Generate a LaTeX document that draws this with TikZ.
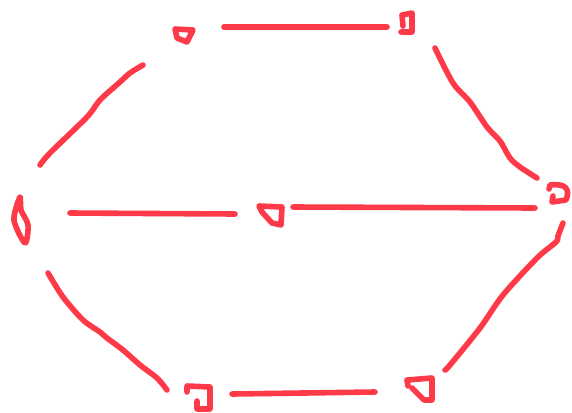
\documentclass[tikz,border=0pt]{standalone}
\usepackage{xcolor}
\usepackage{tikz}
\usetikzlibrary{calc}
\definecolor{inkred}{HTML}{FF3A48}
\tikzset{
  edge/.style={line width=4.2pt,inkred,line cap=round,line join=round},
  glyph/.style={line width=4.2pt,inkred,line cap=round,line join=round}
}
\begin{document}
\begin{tikzpicture}[x=0.75pt,y=-0.75pt]
\useasboundingbox (0,0) rectangle (572,412);
% vertices
\coordinate (a) at (184,35);
\coordinate (b) at (407,23);
\coordinate (c) at (558,194);
\coordinate (d) at (21,220);
\coordinate (e) at (270,215);
\coordinate (f) at (199,398);
\coordinate (g) at (420,389);
% hand drawn marks
\draw[glyph,shift={(a)}] (-7,3) -- (-9,-6) -- (9,-5) -- (3,7) -- cycle;
\draw[glyph,shift={(b)}] (-4,3) -- (-5,-8) -- (5,-10) -- (5,9) -- (-6,9);
\draw[glyph,shift={(c)}] (-9,-5) -- (-8,-9) .. controls (9,-11) and (12,-4) .. (8,6) -- (-6,8) -- (-5,2);
\draw[glyph,shift={(d)}] plot[smooth cycle] coordinates {(-1,-23) (-7,0) (4,23) (7,5) (0,-10)};
\draw[glyph,shift={(e)}] (-11,-9) -- (12,-8) -- (11,10) -- (2,8) -- (-8,-3) -- cycle;
\draw[glyph,shift={(f)}] (-12,-6) -- (-12,-12) -- (11,-11) -- (11,11) -- (-2,11) -- (-2,3);
\draw[glyph,shift={(g)}] (-12,-3) -- (-13,-9) -- (12,-11) -- (12,11) -- (4,11) -- (-8,-1);
% edge ends
\coordinate (ab1) at (224,27);  \coordinate (ab2) at (387,27);
\coordinate (bc1) at (435,48);  \coordinate (bc2) at (537,178);
\coordinate (ad1) at (143,65);  \coordinate (ad2) at (40,165);
\coordinate (de1) at (70,213);  \coordinate (de2) at (235,214);
\coordinate (ec1) at (293,207); \coordinate (ec2) at (535,208);
\coordinate (df1) at (48,273);  \coordinate (df2) at (167,390);
\coordinate (fg1) at (232,394); \coordinate (fg2) at (375,392);
\coordinate (gc1) at (445,370); \coordinate (gc2) at (563,223);
% edges
\draw[edge] (ab1) -- (ab2);
\draw[edge] plot[smooth] coordinates {(bc1) (453,83) (470,102) (487,127) (500,141) (510,158) (520,167) (bc2)};
\draw[edge] plot[smooth] coordinates {(ad1) (130,73) (120,82) (100,100) (87,117) (50,153) (ad2)};
\draw[edge] (de1) -- (de2);
\draw[edge] (ec1) -- (ec2);
\draw[edge] plot[smooth] coordinates {(df1) (63,297) (83,320) (100,332) (107,338) (123,350) (140,365) (157,378) (df2)};
\draw[edge] (fg1) -- (fg2);
\draw[edge] plot[smooth] coordinates {(gc1) (450,365) (480,328) (503,295) (537,258) (556,242) (558,236) (gc2)};
\end{tikzpicture}
\end{document}
